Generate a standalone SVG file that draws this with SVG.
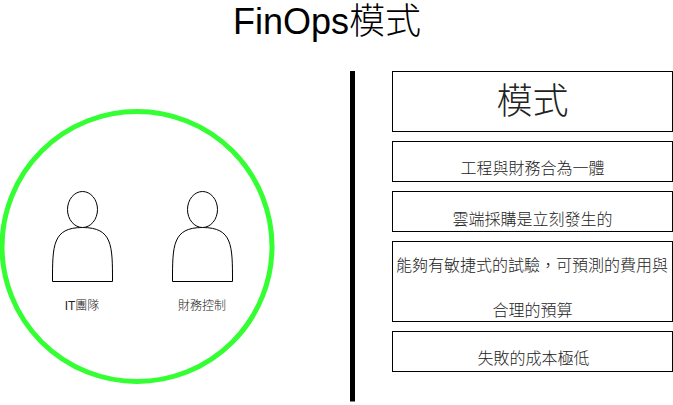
<svg xmlns="http://www.w3.org/2000/svg" width="673" height="405" viewBox="0 0 673 405">
<style>
text{font-family:"Liberation Sans","Noto Sans CJK TC",sans-serif;fill:#000;text-anchor:middle}
.c{font-weight:300;fill:#222}
.b{fill:#fff;stroke:#000;stroke-width:1}
.p{fill:#fff;stroke:#000;stroke-width:1}
</style>
<rect width="673" height="405" fill="#fff"/>
<g id="title"><text x="327" y="34" font-size="36" font-weight="300" fill="#111">FinOps模式</text></g>
<g id="circle"><circle cx="137" cy="246.500" r="135" fill="#fff" stroke="#33ff33" stroke-width="5"/></g>
<g id="divider"><line x1="352.500" y1="71" x2="352.500" y2="401.500" stroke="#000" stroke-width="5"/></g>
<g id="it">
<path class="p" d="M52.500 281.500C52.500 245.500 52.500 227.500 82.500 227.500C112.500 227.500 112.500 245.500 112.500 281.500Z"/>
<ellipse class="p" cx="82.500" cy="209.500" rx="15" ry="18"/>
<text class="c" x="82" y="310" font-size="12">IT團隊</text>
</g>
<g id="fin">
<path class="p" d="M172.500 281.500C172.500 245.500 172.500 227.500 202.500 227.500C232.500 227.500 232.500 245.500 232.500 281.500Z"/>
<ellipse class="p" cx="202.500" cy="209.500" rx="15" ry="18"/>
<text class="c" x="202" y="310" font-size="12">財務控制</text>
</g>
<g id="n1"><rect class="b" x="392.500" y="71.500" width="280" height="60"/><text class="c" x="532.500" y="114" font-size="36">模式</text></g>
<g id="n2"><rect class="b" x="392.500" y="141.500" width="280" height="40"/><text class="c" x="532.500" y="174" font-size="16">工程與財務合為一體</text></g>
<g id="n3"><rect class="b" x="392.500" y="191.500" width="280" height="40"/><text class="c" x="532.500" y="224.500" font-size="16">雲端採購是立刻發生的</text></g>
<g id="n4"><rect class="b" x="392.500" y="241.500" width="280" height="80"/><text class="c" x="532" y="271" font-size="16">能夠有敏捷式的試驗，可預測的費用與</text><text class="c" x="532.500" y="316" font-size="16">合理的預算</text></g>
<g id="n5"><rect class="b" x="392.500" y="331.500" width="280" height="40"/><text class="c" x="533.500" y="364" font-size="16">失敗的成本極低</text></g>
</svg>
